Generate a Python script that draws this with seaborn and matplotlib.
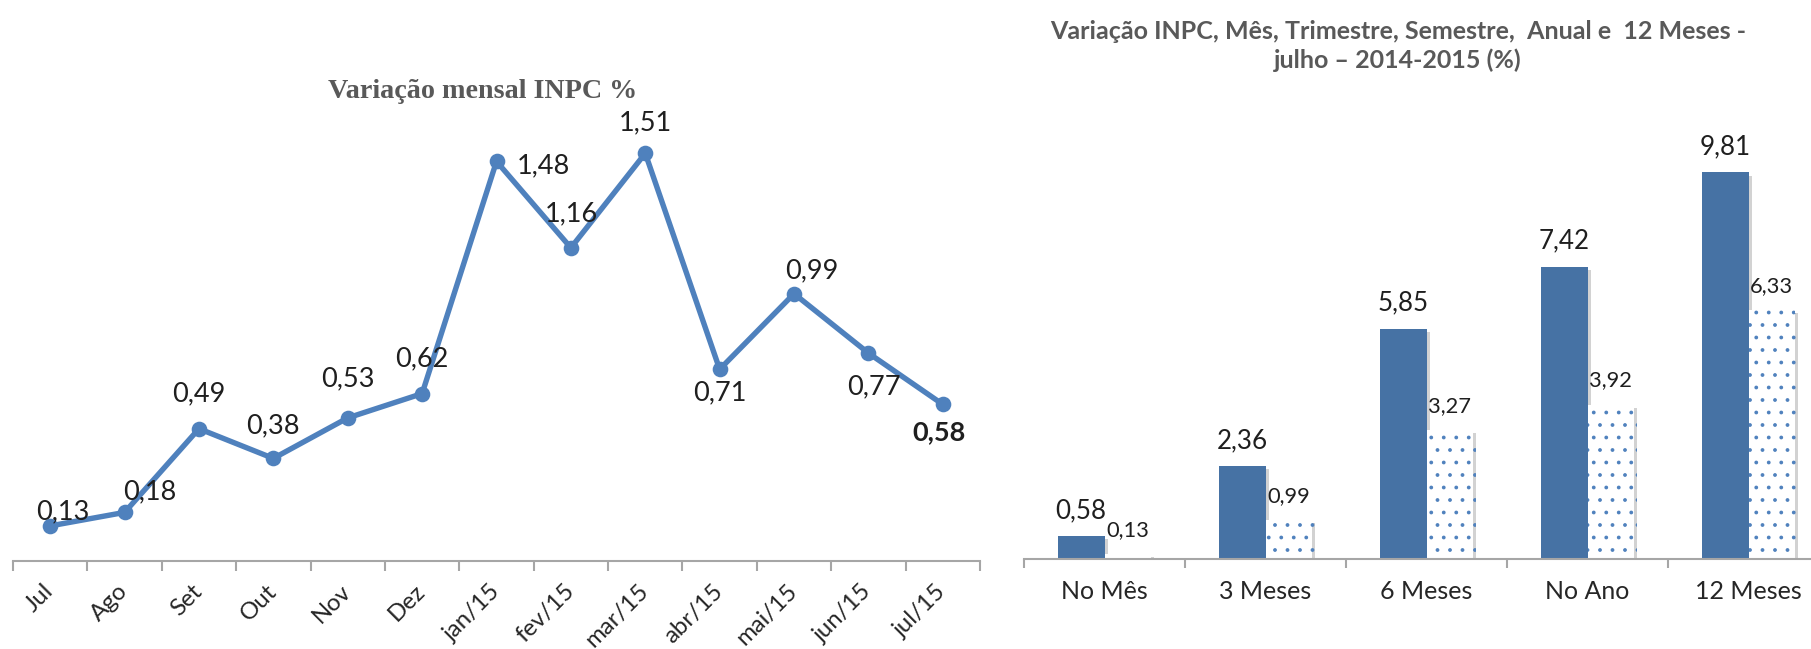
import numpy as np
import pandas as pd
import matplotlib
matplotlib.use("Agg")
import matplotlib.pyplot as plt
import seaborn as sns
from matplotlib import patheffects as pe

# ---------------- data ----------------
months = ['Jul', 'Ago', 'Set', 'Out', 'Nov', 'Dez', 'jan/15', 'fev/15',
          'mar/15', 'abr/15', 'mai/15', 'jun/15', 'jul/15']
monthly = [0.13, 0.18, 0.49, 0.38, 0.53, 0.62, 1.48, 1.16, 1.51, 0.71, 0.99, 0.77, 0.58]

periods = ['No Mês', '3 Meses', '6 Meses', 'No Ano', '12 Meses']
v2015 = [0.58, 2.36, 5.85, 7.42, 9.81]
v2014 = [0.13, 0.99, 3.27, 3.92, 6.33]
years = ['2015', '2014']

left_title = 'Variação mensal INPC %'
right_title = 'Variação INPC, Mês, Trimestre, Semestre,  Anual e  12 Meses -\njulho – 2014-2015 (%)'

# ---------------- style ----------------
sns.set_theme(style='white')
plt.rcParams['font.family'] = ['Lato', 'DejaVu Sans']
plt.rcParams['hatch.linewidth'] = 0.6

W, H, DPI = 1811, 649, 150
fig = plt.figure(figsize=(W / DPI, H / DPI), dpi=DPI)


def rect(x0, x1, y_top, y_bot):
    return [x0 / W, 1 - y_bot / H, (x1 - x0) / W, (y_bot - y_top) / H]


def fmt(v):
    return f"{v:.2f}".replace('.', ',')


AXIS_GRAY = '#A6A6A6'
TXT = '#1F1F1F'
LINE_BLUE = '#4F81BD'
BAR_BLUE = '#4672A4'

# ---------------- left: line chart ----------------
ax1 = fig.add_axes(rect(13, 980, 40, 561))
df1 = pd.DataFrame({'mes': months, 'v': monthly})
sns.lineplot(data=df1, x='mes', y='v', ax=ax1, color=LINE_BLUE, lw=2.6,
             marker='o', markersize=7.5, markeredgewidth=0, sort=False)
ax1.set_xlim(-0.5, len(months) - 0.5)
ax1.set_ylim(0, 521 / 270)

offsets = [(13, -14), (25, -21), (0, -35), (0, -33), (0, -39), (0, -35), (47, 4),
           (0, -34), (0, -30), (0, 24), (18, -23), (6, 34), (-4, 28)]
for i, (v, (dx, dy)) in enumerate(zip(monthly, offsets)):
    last = i == len(monthly) - 1
    ax1.annotate(fmt(v), (i, v), xytext=(dx, -dy), textcoords='offset pixels',
                 ha='center', va='center', fontsize=13, color=TXT,
                 fontweight='bold' if last else 'normal')

ax1.set_xticks(range(len(months)))
ax1.set_xticklabels(months, rotation=45, ha='right', va='center',
                    rotation_mode='anchor', fontsize=11.5, color='#262626')
ax1.set_xticks(np.arange(-0.5, len(months), 1), minor=True)
ax1.tick_params(axis='x', which='major', length=0, pad=13)
ax1.tick_params(axis='x', which='minor', length=4.8, width=1, color=AXIS_GRAY,
                direction='out', bottom=True)
ax1.set_yticks([])
ax1.set_xlabel('')
ax1.set_ylabel('')
for s in ['top', 'left', 'right']:
    ax1.spines[s].set_visible(False)
ax1.spines['bottom'].set_color(AXIS_GRAY)
ax1.spines['bottom'].set_linewidth(1)

fig.text(483 / W, 1 - 91 / H, left_title, family=['Liberation Serif'],
         fontweight='bold', fontsize=13.5, color='#595959', ha='center', va='center')

# ---------------- right: bar chart ----------------
ax2 = fig.add_axes(rect(1024, 1829, 100, 559))
df2 = pd.DataFrame({'periodo': periods * 2,
                    'ano': [years[0]] * len(periods) + [years[1]] * len(periods),
                    'v': v2015 + v2014})
sns.barplot(data=df2, x='periodo', y='v', hue='ano', hue_order=years,
            palette={years[0]: BAR_BLUE, years[1]: 'white'}, width=0.58, gap=0,
            saturation=1, ax=ax2, legend=False, errorbar=None)
ax2.set_xlim(-0.5, len(periods) - 0.5)
ax2.set_ylim(0, 459 / 39.4)

shadow = [pe.SimplePatchShadow(offset=(1.5, -1.5), shadow_rgbFace='#808080', alpha=0.35),
          pe.Normal()]
dark, light = ax2.containers[0], ax2.containers[1]
for p in dark:
    p.set_linewidth(0)
    p.set_path_effects(shadow)
for p in light:
    p.set_edgecolor(LINE_BLUE)
    p.set_hatch('..')
    p.set_linewidth(0)
    p.set_path_effects(shadow)

for p, v in zip(dark, v2015):
    ax2.annotate(fmt(v), (p.get_x() + p.get_width() / 2, p.get_height()),
                 xytext=(0, 18), textcoords='offset pixels', ha='center',
                 va='baseline', fontsize=12.5, color=TXT)
for p, v in zip(light, v2014):
    ax2.annotate(fmt(v), (p.get_x() + p.get_width() / 2, p.get_height()),
                 xytext=(0, 18), textcoords='offset pixels', ha='center',
                 va='baseline', fontsize=10.5, color=TXT)

ax2.set_xticks(range(len(periods)))
ax2.set_xticklabels(periods, fontsize=12, color='#262626')
ax2.set_xticks(np.arange(-0.5, len(periods), 1), minor=True)
ax2.tick_params(axis='x', which='major', length=0, pad=10)
ax2.tick_params(axis='x', which='minor', length=4.3, width=1, color=AXIS_GRAY,
                direction='out', bottom=True)
ax2.set_yticks([])
ax2.set_xlabel('')
ax2.set_ylabel('')
for s in ['top', 'left', 'right']:
    ax2.spines[s].set_visible(False)
ax2.spines['bottom'].set_color(AXIS_GRAY)
ax2.spines['bottom'].set_linewidth(1)

fig.text(1398 / W, 1 - 46 / H, right_title, fontweight='bold', fontsize=12,
         color='#595959', ha='center', va='center', linespacing=1.3)

fig.savefig('out.png', dpi=DPI)
